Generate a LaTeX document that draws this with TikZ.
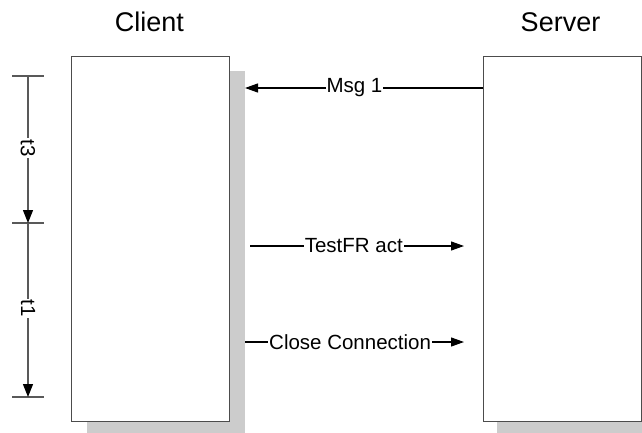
\documentclass[tikz,border=0pt]{standalone}
\usepackage{fontspec}
\setmainfont{Liberation Sans}
\usetikzlibrary{arrows.meta}
\begin{document}
\begin{tikzpicture}[x=1pt,y=-1pt,
  title/.style={font=\fontsize{27}{30}\selectfont, inner sep=0pt},
  lbl/.style={font=\fontsize{20.5}{24}\selectfont, fill=white, inner xsep=1pt, inner ysep=0pt},
  pbox/.style={draw=black!70, line width=1.3pt, fill=white},
  shadowbox/.style={fill=black!20, draw=none},
  msg/.style={draw=black, line width=1.2pt, -{Triangle[length=13pt,width=9pt]}},
  tline/.style={draw=black!65, line width=1.2pt},
  tarrow/.style={draw=black!65, line width=1.2pt, -{Triangle[length=13pt,width=10pt,color=black]}}]
\useasboundingbox (0,0) rectangle (642,433);
% shadows
\fill[black!20] (87,71) rectangle (245,433);
\fill[black!20] (497,71) rectangle (642,433);
% boxes
\node[pbox, minimum width=158pt, minimum height=365pt, anchor=north west, inner sep=0pt] (client) at (71,56) {};
\node[pbox, minimum width=158pt, minimum height=365pt, anchor=north west, inner sep=0pt] (server) at (483,56) {};
% titles
\node[title] (tc) at (149.5,22) {Client};
\node[title] (ts) at (560.5,22) {Server};
% messages
\coordinate (m1s) at (483,88);
\coordinate (m1e) at (245,88);
\draw[msg] (m1s) -- (m1e) node[lbl, pos=0.54] (m1) {Msg 1};
\coordinate (m2s) at (250,246);
\coordinate (m2e) at (464,246);
\draw[msg] (m2s) -- (m2e) node[lbl, pos=0.485] (m2) {TestFR act};
\coordinate (m3s) at (245,342);
\coordinate (m3e) at (464,342);
\draw[msg] (m3s) -- (m3e) node[lbl, pos=0.48] (m3) {Close Connection};
% timeline
\coordinate (ta) at (28,76);
\coordinate (tb) at (28,223);
\coordinate (tcc) at (28,397);
\draw[tline] (12,76) -- (44,76);
\draw[tline] (12,223) -- (44,223);
\draw[tline] (12,397) -- (44,397);
\draw[tarrow] (ta) -- (tb) node[lbl, pos=0.49, rotate=-90] (t3) {t3};
\draw[tarrow] (tb) -- (tcc) node[lbl, pos=0.49, rotate=-90] (t1) {t1};
\end{tikzpicture}
\end{document}
